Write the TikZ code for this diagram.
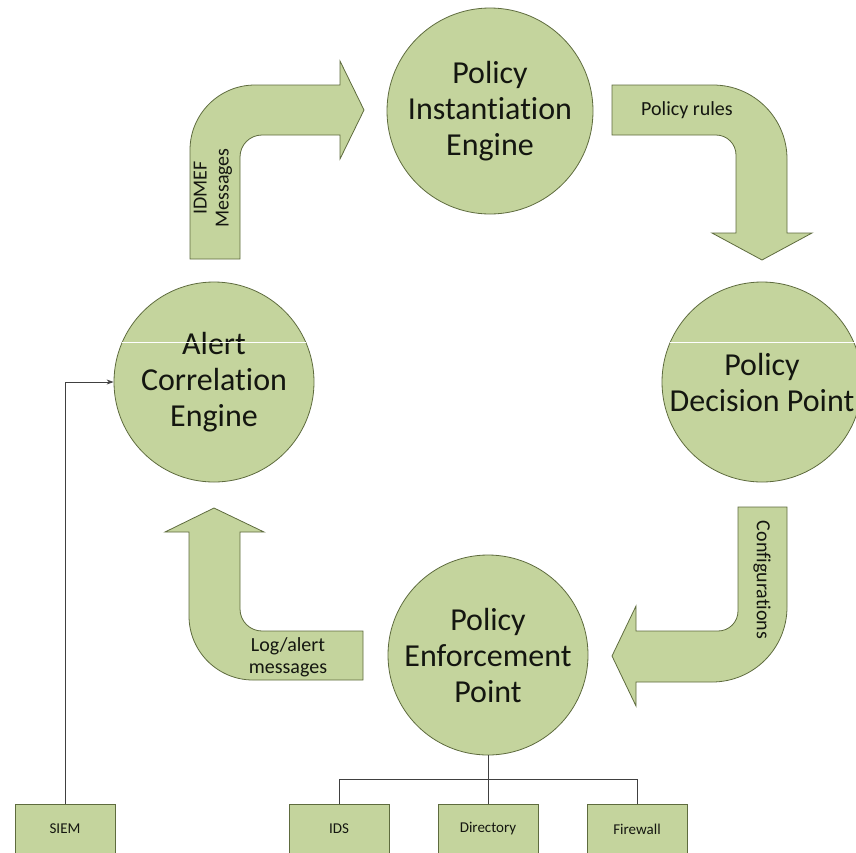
\documentclass[tikz,border=0pt]{standalone}
\usepackage{fontspec}
\setmainfont{Carlito}[Ligatures=NoCommon]
\usetikzlibrary{arrows.meta}
\newlength{\du}
\setlength{\du}{1pt}
\definecolor{olivefill}{RGB}{196,212,157}
\definecolor{oliveline}{RGB}{94,107,62}
\definecolor{labeltext}{RGB}{20,22,16}
\tikzset{
  policycircle/.style={circle, draw=oliveline, fill=olivefill, line width=0.8\du,
    minimum size=200\du, inner sep=0pt, align=center, text=labeltext,
    font=\fontsize{32}{36}\selectfont},
  flowarrow/.style={draw=oliveline, fill=olivefill, line width=0.8\du, line join=miter},
  flowlabel/.style={align=center, inner sep=0pt, text=labeltext,
    font=\fontsize{20}{22}\selectfont},
  devicebox/.style={draw=oliveline, fill=olivefill, line width=0.8\du,
    minimum width=100\du, minimum height=50\du, inner sep=0pt, text=labeltext,
    font=\fontsize{15}{17}\selectfont},
  busline/.style={draw=black!75, line width=0.8\du}
}

\begin{document}
\begin{tikzpicture}
\pgftransformxscale{1.000000}
\pgftransformyscale{-1.000000}
\useasboundingbox (0\du,0\du) rectangle (856\du,852\du);
\clip (0\du,0\du) rectangle (856\du,852\du);
% block arrows
\draw[flowarrow] (190\du,259\du)--(190\du,150\du) arc[start angle=180,end angle=270,radius=65\du]--(340\du,85\du)--(340\du,61\du)--(364\du,110\du)--(340\du,159\du)--(340\du,135\du)--(262\du,135\du) arc[start angle=270,end angle=180,radius=22\du]--(240\du,259\du)--cycle;
\draw[flowarrow] (612\du,85\du)--(713\du,85\du) arc[start angle=270,end angle=360,radius=74\du]--(787\du,233\du)--(812\du,233\du)--(762\du,260\du)--(712\du,233\du)--(736\du,233\du)--(736\du,155\du) arc[start angle=0,end angle=-90,radius=20\du]--(612\du,135\du)--cycle;
\draw[flowarrow] (738\du,507\du)--(787\du,507\du)--(787\du,607\du) arc[start angle=0,end angle=90,radius=75\du]--(636\du,682\du)--(636\du,706\du)--(612\du,656\du)--(636\du,606\du)--(636\du,631\du)--(718\du,631\du) arc[start angle=90,end angle=0,radius=20\du]--cycle;
\draw[flowarrow] (363\du,631\du)--(262\du,631\du) arc[start angle=90,end angle=180,radius=22\du]--(240\du,532\du)--(264\du,532\du)--(214\du,508\du)--(165\du,532\du)--(189\du,532\du)--(189\du,616\du) arc[start angle=180,end angle=90,radius=64\du]--(363\du,680\du)--cycle;
% arrow labels
\node[flowlabel, rotate=90] (idmef) at (213\du,188\du) {IDMEF\\Messages};
\node[flowlabel] (rules) at (687\du,110\du) {Policy rules};
\node[flowlabel, rotate=-90] (config) at (762\du,580\du) {Configurations};
\node[flowlabel] (logalert) at (288\du,657\du) {Log/alert\\messages};
% engines
\node[policycircle, minimum size=206\du] (pie) at (490\du,111\du) {Policy\\Instantiation\\Engine};
\node[policycircle] (ace) at (214\du,382\du) {Alert\\Correlation\\Engine};
\node[policycircle] (pdp) at (762\du,382\du) {Policy\\Decision Point};
\node[policycircle] (pep) at (488\du,655\du) {Policy\\Enforcement\\Point};
\draw[white, line width=0.8\du] (122\du,342\du)--(306\du,342\du);
\draw[white, line width=0.8\du] (670\du,342\du)--(856\du,342\du);
% devices
\node[devicebox] (siem) at (65\du,829\du) {SIEM};
\node[devicebox] (ids) at (339\du,829\du) {IDS};
\node[devicebox] (dir) at (488\du,829\du) {Directory};
\node[devicebox] (fw) at (637\du,829\du) {Firewall};
\coordinate (bus) at (488\du,779\du);
\draw[busline] (pep) -- (bus);
\draw[busline] (bus) -| (ids);
\draw[busline] (bus) -| (fw);
\draw[busline] (bus) -- (dir);
\draw[busline, -{Stealth[length=7pt,width=5pt]}] (siem) |- (ace);
\end{tikzpicture}
\end{document}
